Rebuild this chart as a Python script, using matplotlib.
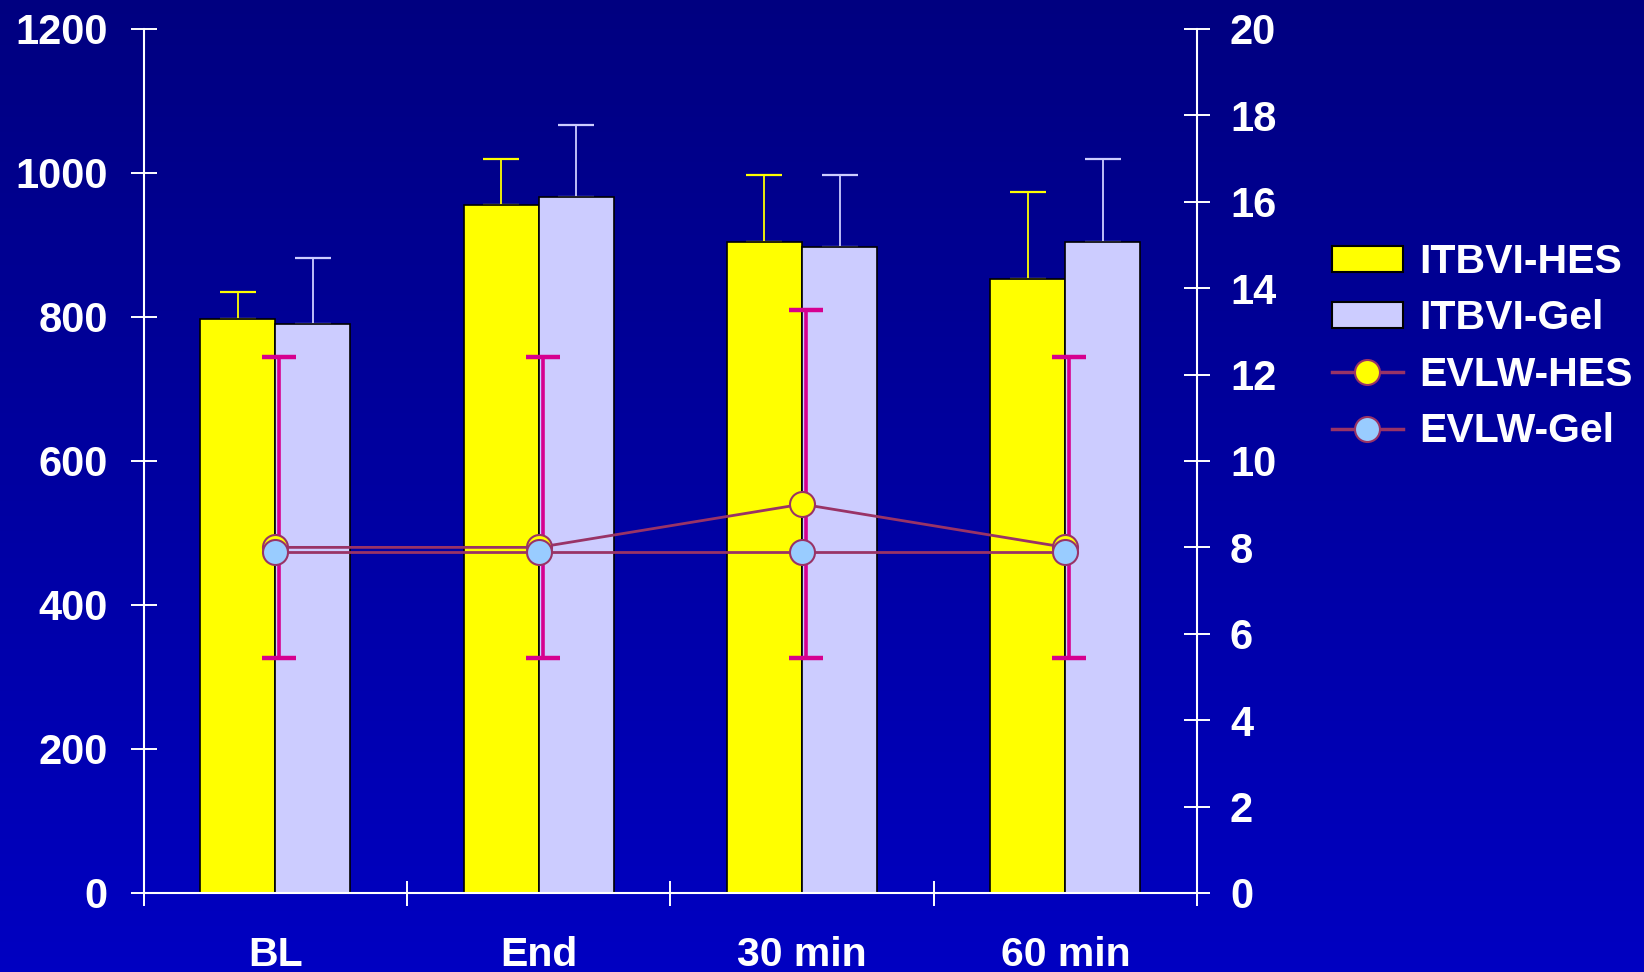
import numpy as np
import matplotlib
matplotlib.use("Agg")
import matplotlib.pyplot as plt
from matplotlib.colors import LinearSegmentedColormap
from matplotlib.patches import Patch
from matplotlib.lines import Line2D

plt.rcParams['font.family'] = ['Liberation Sans', 'DejaVu Sans']
plt.rcParams['font.weight'] = 'bold'

# ITBVI (left axis) and EVLW (right axis) per time point
categories = ['BL', 'End', '30 min', '60 min']
itbvi_hes = [797, 956, 904, 853]
itbvi_hes_sd = [38, 64, 93, 120]
itbvi_gel = [790, 966, 897, 904]
itbvi_gel_sd = [92, 101, 100, 115]
evlw_hes = [8.0, 8.0, 9.0, 8.0]
evlw_gel = [7.9, 7.9, 7.9, 7.9]
evlw_upper = [12.4, 12.4, 13.5, 12.4]
evlw_lower = [5.45, 5.45, 5.45, 5.45]

hes_color = '#FFFF00'
gel_color = '#CCCCFF'
line_color = '#993366'
sd_color = '#D6008F'
white = 'white'

fig = plt.figure(figsize=(16.44, 9.72), dpi=100)

# navy gradient background
bg = fig.add_axes([0, 0, 1, 1], zorder=-10)
grad = np.linspace(0, 1, 256).reshape(-1, 1)
cmap = LinearSegmentedColormap.from_list('bg', ['#000080', '#0000C2'])
bg.imshow(grad, aspect='auto', cmap=cmap, extent=[0, 1, 0, 1], origin='upper')
bg.axis('off')

ax = fig.add_axes([0.0874, 0.0813, 0.6407, 0.8889])
ax.set_facecolor('none')
x = np.arange(len(categories)) + 0.5
w = 0.285

ax.bar(x - w / 2, itbvi_hes, w, color=hes_color, edgecolor='black', linewidth=1.2, zorder=2)
ax.bar(x + w / 2, itbvi_gel, w, color=gel_color, edgecolor='black', linewidth=1.2, zorder=2)
ax.errorbar(x - w / 2, itbvi_hes, yerr=[np.zeros(4), itbvi_hes_sd], fmt='none',
            ecolor=hes_color, elinewidth=1.3, capsize=13, capthick=1.6, zorder=1)
ax.errorbar(x + w / 2, itbvi_gel, yerr=[np.zeros(4), itbvi_gel_sd], fmt='none',
            ecolor=gel_color, elinewidth=1.3, capsize=13, capthick=1.6, zorder=1)

ax.set_xlim(0, 4)
ax.set_ylim(0, 1200)
ax.set_yticks(np.arange(0, 1201, 200))
ax.set_xticks(x)
ax.set_xticklabels(categories)
ax.set_xticks(np.arange(0, 5), minor=True)
ax.tick_params(axis='x', which='major', length=0, pad=31, labelsize=29.5, labelcolor=white)
ax.tick_params(axis='x', which='minor', direction='inout', length=18, width=1.4, color=white)
ax.tick_params(axis='y', direction='inout', length=19.4, width=1.4, color=white,
               pad=16, labelsize=30, labelcolor=white)
for side in ['top', 'right']:
    ax.spines[side].set_visible(False)
for side in ['left', 'bottom']:
    ax.spines[side].set_color(white)
    ax.spines[side].set_linewidth(1.5)

ax2 = ax.twinx()
ax2.set_ylim(0, 20)
ax2.set_yticks(np.arange(0, 21, 2))
ax2.tick_params(axis='y', direction='inout', length=19.4, width=1.4, color=white,
                pad=14, labelsize=30, labelcolor=white)
for side in ['top', 'left', 'bottom']:
    ax2.spines[side].set_visible(False)
ax2.spines['right'].set_color(white)
ax2.spines['right'].set_linewidth(1.5)

# EVLW spread drawn behind the markers
mid = (np.array(evlw_upper) + np.array(evlw_lower)) / 2
half = (np.array(evlw_upper) - np.array(evlw_lower)) / 2
ax2.errorbar(x + 0.015, mid, yerr=half, fmt='none', ecolor=sd_color,
             elinewidth=2.6, capsize=12.5, capthick=3.2, zorder=3)

ax2.plot(x, evlw_hes, color=line_color, linewidth=2, marker='o', markersize=18,
         markerfacecolor=hes_color, markeredgecolor=line_color, markeredgewidth=1.5, zorder=4)
ax2.plot(x, evlw_gel, color=line_color, linewidth=2, marker='o', markersize=18,
         markerfacecolor='#99CCFF', markeredgecolor=line_color, markeredgewidth=1.5, zorder=5)

handles = [
    Patch(facecolor=hes_color, edgecolor='black', linewidth=1.5),
    Patch(facecolor=gel_color, edgecolor='black', linewidth=1.5),
    Line2D([], [], color=line_color, linewidth=2.5, marker='o', markersize=18,
           markerfacecolor=hes_color, markeredgecolor=line_color, markeredgewidth=1.5),
    Line2D([], [], color=line_color, linewidth=2.5, marker='o', markersize=18,
           markerfacecolor='#99CCFF', markeredgecolor=line_color, markeredgewidth=1.5),
]
labels = ['ITBVI-HES', 'ITBVI-Gel', 'EVLW-HES', 'EVLW-Gel']
leg = fig.legend(handles, labels, loc='upper left', bbox_to_anchor=(0.810, 0.750),
                 frameon=False, fontsize=29.5, labelcolor=white, handlelength=1.75,
                 handleheight=0.6, handletextpad=0.38, labelspacing=0.45,
                 borderpad=0, borderaxespad=0)

fig.savefig('out.png', dpi=100)
